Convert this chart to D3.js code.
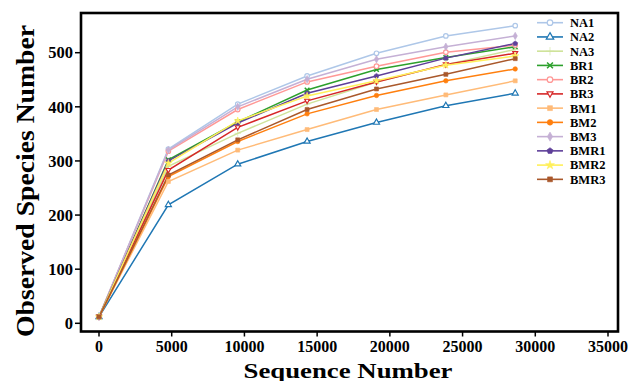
<!DOCTYPE html>
<html><head><meta charset="utf-8">
<script src="https://cdn.jsdelivr.net/npm/d3@7"></script>
<style>body{margin:0;background:#fff}svg{display:block}</style>
</head><body>
<svg id="c" width="628" height="381"></svg>
<script>
const xValues = [0, 4770, 9540, 14310, 19080, 23850, 28620];
const seriesNames = ["NA1","NA2","NA3","BR1","BR2","BR3","BM1","BM2","BM3","BMR1","BMR2","BMR3"];
const NA1  = [12, 322, 405, 457, 499, 531, 550];
const NA2  = [12, 219, 294, 336, 371, 402, 425];
const NA3  = [12, 290, 351, 405, 446, 478, 506];
const BR1  = [12, 302, 372, 431, 469, 491, 511];
const BR2  = [12, 318, 395, 446, 475, 501, 514];
const BR3  = [12, 283, 362, 411, 446, 478, 499];
const BM1  = [12, 262, 320, 358, 395, 422, 448];
const BM2  = [12, 271, 336, 387, 421, 448, 470];
const BM3  = [12, 320, 400, 451, 488, 511, 531];
const BMR1 = [12, 300, 370, 425, 457, 490, 517];
const BMR2 = [12, 296, 374, 420, 448, 477, 494];
const BMR3 = [12, 274, 339, 395, 433, 460, 489];
const xTicks = [0, 5000, 10000, 15000, 20000, 25000, 30000, 35000];
const yTicks = [0, 100, 200, 300, 400, 500];

const values = [NA1,NA2,NA3,BR1,BR2,BR3,BM1,BM2,BM3,BMR1,BMR2,BMR3];
const colors = ["#aec7e8","#1f77b4","#cfe39a","#2ca02c","#ff9896","#d62728","#ffbb78","#ff7f0e","#c5b0d5","#5e3f99","#fff05a","#a9582b"];

const pentagon = {draw(ctx, size){
  const r = Math.sqrt(size/2.38);
  for(let i=0;i<5;i++){const a=-Math.PI/2+i*2*Math.PI/5;
    const px=r*Math.cos(a), py=r*Math.sin(a); i?ctx.lineTo(px,py):ctx.moveTo(px,py);}
  ctx.closePath();}};
const triDown = {draw(ctx,size){const s=Math.sqrt(size*1.5);ctx.moveTo(-s/2,-s/3);ctx.lineTo(s/2,-s/3);ctx.lineTo(0,s*0.55);ctx.closePath();}};
const markers = [
  {t:d3.symbolCircle, fill:false},
  {t:d3.symbolTriangle, fill:false},
  {t:d3.symbolPlus, fill:true},
  {t:d3.symbolTimes, fill:false},
  {t:d3.symbolCircle, fill:false},
  {t:triDown, fill:false},
  {t:d3.symbolSquare, fill:true},
  {t:d3.symbolCircle, fill:true},
  {t:d3.symbolDiamond, fill:true},
  {t:pentagon, fill:true},
  {t:d3.symbolStar, fill:true},
  {t:d3.symbolSquare, fill:true}
];

const svg = d3.select("#c");
const x = d3.scaleLinear().domain([0,35000]).range([99,608]);
const y = d3.scaleLinear().domain([0,500]).range([323.3,52.7]);
const frame = {l:81, r:618, t:13, b:331.5};

const font = "'Liberation Serif','Times New Roman',serif";

const line = d3.line().x((d,i)=>x(xValues[i])).y(d=>y(d));
values.forEach((vals,k)=>{
  svg.append("path").attr("d",line(vals)).attr("fill","none")
    .attr("stroke",colors[k]).attr("stroke-width",1.5);
});
function drawMarker(g,k,size){
  const m = markers[k];
  const p = g.append("path").attr("d",d3.symbol().type(m.t).size(size)());
  if(m.t===d3.symbolTimes){p.attr("fill","none").attr("stroke",colors[k]).attr("stroke-width",1.5);}
  else if(m.fill){p.attr("fill",colors[k]).attr("stroke",colors[k]).attr("stroke-width",0.6);}
  else {p.attr("fill","#fff").attr("stroke",colors[k]).attr("stroke-width",1.2);}
  return p;
}
values.forEach((vals,k)=>{
  vals.forEach((v,i)=>{
    const g = svg.append("g").attr("transform",`translate(${x(xValues[i])},${y(v)})`);
    drawMarker(g,k,16);
  });
});

svg.append("rect").attr("x",frame.l).attr("y",frame.t).attr("width",frame.r-frame.l).attr("height",frame.b-frame.t)
  .attr("fill","none").attr("stroke","#000").attr("stroke-width",2.6);

const xa = svg.append("g");
xTicks.forEach(t=>{
  xa.append("line").attr("x1",x(t)).attr("x2",x(t)).attr("y1",frame.b).attr("y2",frame.b+5).attr("stroke","#000").attr("stroke-width",1.5);
  xa.append("text").attr("x",x(t)).attr("y",351.5).attr("text-anchor","middle")
    .attr("font-family",font).attr("font-weight","bold").attr("font-size",16).text(t);
});
const ya = svg.append("g");
yTicks.forEach(t=>{
  ya.append("line").attr("x1",frame.l-6).attr("x2",frame.l).attr("y1",y(t)).attr("y2",y(t)).attr("stroke","#000").attr("stroke-width",1.5);
  ya.append("text").attr("x",frame.l-8).attr("y",y(t)).attr("dy","0.35em").attr("text-anchor","end")
    .attr("font-family",font).attr("font-weight","bold").attr("font-size",16.5).text(t);
});

svg.append("text").attr("x",348).attr("y",377.5).attr("text-anchor","middle")
  .attr("font-family",font).attr("font-weight","bold").attr("font-size",22)
  .attr("textLength",209).attr("lengthAdjust","spacingAndGlyphs").text("Sequence Number");
svg.append("text").attr("transform","translate(34,181) rotate(-90)").attr("text-anchor","middle")
  .attr("font-family",font).attr("font-weight","bold").attr("font-size",25)
  .attr("textLength",312).attr("lengthAdjust","spacingAndGlyphs").text("Observed Species Number");

const lg = svg.append("g");
seriesNames.forEach((n,k)=>{
  const ly = 22.7 + k*14.24;
  lg.append("line").attr("x1",537).attr("x2",563).attr("y1",ly).attr("y2",ly).attr("stroke",colors[k]).attr("stroke-width",1.6);
  const g = lg.append("g").attr("transform",`translate(550,${ly})`);
  drawMarker(g,k,24);
  lg.append("text").attr("x",570).attr("y",ly).attr("dy","0.35em")
    .attr("font-family",font).attr("font-weight","bold").attr("font-size",12.5).text(n);
});
</script>
</body></html>
